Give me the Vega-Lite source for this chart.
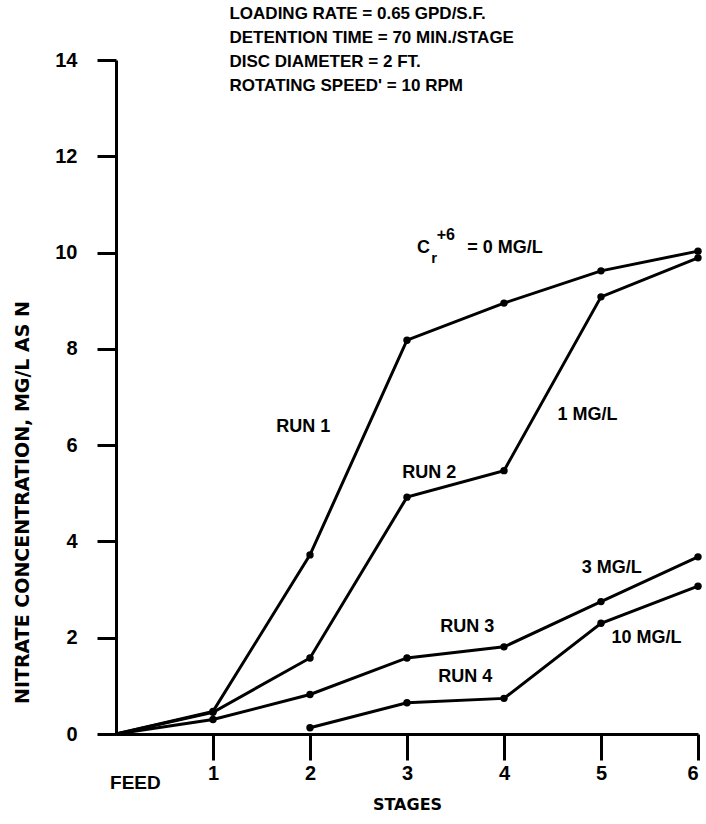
{
  "$schema": "https://vega.github.io/schema/vega-lite/v6.json",
  "width": 582,
  "height": 674,
  "autosize": {"type": "none"},
  "padding": {"left": 116, "top": 60, "right": 8, "bottom": 90},
  "background": "white",
  "config": {"view": {"stroke": null}, "font": "Liberation Sans"},
  "datasets": {
    "runs": [
      {"run": "Run 1", "stage": 0, "conc": 0},
      {"run": "Run 1", "stage": 1, "conc": 0.47},
      {"run": "Run 1", "stage": 2, "conc": 3.72},
      {"run": "Run 1", "stage": 3, "conc": 8.18},
      {"run": "Run 1", "stage": 4, "conc": 8.95},
      {"run": "Run 1", "stage": 5, "conc": 9.62},
      {"run": "Run 1", "stage": 6, "conc": 10.03},
      {"run": "Run 2", "stage": 0, "conc": 0},
      {"run": "Run 2", "stage": 1, "conc": 0.45},
      {"run": "Run 2", "stage": 2, "conc": 1.58},
      {"run": "Run 2", "stage": 3, "conc": 4.92},
      {"run": "Run 2", "stage": 4, "conc": 5.47},
      {"run": "Run 2", "stage": 5, "conc": 9.08},
      {"run": "Run 2", "stage": 6, "conc": 9.89},
      {"run": "Run 3", "stage": 0, "conc": 0},
      {"run": "Run 3", "stage": 1, "conc": 0.3},
      {"run": "Run 3", "stage": 2, "conc": 0.82},
      {"run": "Run 3", "stage": 3, "conc": 1.58},
      {"run": "Run 3", "stage": 4, "conc": 1.81},
      {"run": "Run 3", "stage": 5, "conc": 2.75},
      {"run": "Run 3", "stage": 6, "conc": 3.68},
      {"run": "Run 4", "stage": 2, "conc": 0.13},
      {"run": "Run 4", "stage": 3, "conc": 0.65},
      {"run": "Run 4", "stage": 4, "conc": 0.74},
      {"run": "Run 4", "stage": 5, "conc": 2.3},
      {"run": "Run 4", "stage": 6, "conc": 3.07}
    ],
    "labels": [
      {"label": "RUN 1", "x": 1.93, "y": 6.38},
      {"label": "RUN 2", "x": 3.23, "y": 5.42},
      {"label": "RUN 3", "x": 3.62, "y": 2.22},
      {"label": "RUN 4", "x": 3.6, "y": 1.18},
      {"label": "1 MG/L", "x": 4.86, "y": 6.63},
      {"label": "3 MG/L", "x": 5.11, "y": 3.45},
      {"label": "10 MG/L", "x": 5.47, "y": 2.0},
      {"label": "C", "x": 3.17, "y": 10.1}
    ],
    "feed": [
      {"label": "FEED", "x": 0.2, "y": -1.02}
    ],
    "leftlabels": [
      {"label": "=  0 MG/L", "x": 3.62, "y": 10.1}
    ],
    "sub": [
      {"label": "r", "x": 3.28, "y": 9.88}
    ],
    "sup": [
      {"label": "+6", "x": 3.4, "y": 10.36}
    ],
    "header": [
      {"label": "LOADING RATE  =  0.65 GPD/S.F.", "x": 1.17, "y": 14.96},
      {"label": "DETENTION TIME  =  70 MIN./STAGE", "x": 1.17, "y": 14.46},
      {"label": "DISC DIAMETER  =  2 FT.", "x": 1.17, "y": 13.96},
      {"label": "ROTATING SPEED'  =  10 RPM", "x": 1.17, "y": 13.46}
    ]
  },
  "encoding": {
    "x": {
      "field": "x", "type": "quantitative",
      "scale": {"domain": [0, 6], "nice": false, "zero": false},
      "axis": {
        "values": [1, 2, 3, 4, 5, 6], "grid": false,
        "domainColor": "black", "domainWidth": 3,
        "tickColor": "black", "tickWidth": 3, "tickSize": 26,
        "labelFontSize": 20, "labelFontWeight": "bold", "labelColor": "black", "labelPadding": 3,
        "labelFont": "Liberation Sans",
        "title": "STAGES", "titleFontSize": 16, "titleFontWeight": "bold", "titleColor": "black",
        "titleFont": "DejaVu Sans", "titlePadding": 13
      }
    },
    "y": {
      "field": "y", "type": "quantitative",
      "scale": {"domain": [0, 14], "nice": false, "zero": false},
      "axis": {
        "values": [0, 2, 4, 6, 8, 10, 12, 14], "grid": false,
        "domainColor": "black", "domainWidth": 3,
        "tickColor": "black", "tickWidth": 3, "tickSize": 19,
        "labelFontSize": 20, "labelFontWeight": "bold", "labelColor": "black", "labelPadding": 20,
        "labelFont": "Liberation Sans",
        "title": "NITRATE CONCENTRATION, MG/L AS N", "titleFontSize": 19, "titleFontWeight": "bold",
        "titleColor": "black", "titleFont": "DejaVu Sans",
        "titleX": -94, "titleY": 442, "titleAngle": -90, "titleAlign": "center", "titleBaseline": "middle"
      }
    }
  },
  "layer": [
    {
      "data": {"name": "runs"},
      "mark": {"type": "line", "color": "black", "strokeWidth": 3},
      "encoding": {
        "x": {"field": "stage", "type": "quantitative"},
        "y": {"field": "conc", "type": "quantitative"},
        "detail": {"field": "run", "type": "nominal"}
      }
    },
    {
      "data": {"name": "runs"},
      "transform": [{"filter": "datum.stage > 0"}],
      "mark": {"type": "circle", "color": "black", "size": 55, "opacity": 1},
      "encoding": {
        "x": {"field": "stage", "type": "quantitative"},
        "y": {"field": "conc", "type": "quantitative"}
      }
    },
    {
      "data": {"name": "labels"},
      "mark": {"type": "text", "fontSize": 18, "fontWeight": "bold", "color": "black", "align": "center", "baseline": "middle"},
      "encoding": {"text": {"field": "label"}}
    },
    {
      "data": {"name": "feed"},
      "mark": {"type": "text", "fontSize": 19, "fontWeight": "bold", "color": "black", "align": "center", "baseline": "middle"},
      "encoding": {"text": {"field": "label"}}
    },
    {
      "data": {"name": "leftlabels"},
      "mark": {"type": "text", "fontSize": 18, "fontWeight": "bold", "color": "black", "align": "left", "baseline": "middle"},
      "encoding": {"text": {"field": "label"}}
    },
    {
      "data": {"name": "sub"},
      "mark": {"type": "text", "fontSize": 15, "fontWeight": "bold", "color": "black", "align": "center", "baseline": "middle"},
      "encoding": {"text": {"field": "label"}}
    },
    {
      "data": {"name": "sup"},
      "mark": {"type": "text", "fontSize": 16, "fontWeight": "bold", "color": "black", "align": "center", "baseline": "middle"},
      "encoding": {"text": {"field": "label"}}
    },
    {
      "data": {"name": "header"},
      "mark": {"type": "text", "fontSize": 17, "fontWeight": "bold", "color": "black", "align": "left", "baseline": "middle"},
      "encoding": {"text": {"field": "label"}}
    }
  ]
}
